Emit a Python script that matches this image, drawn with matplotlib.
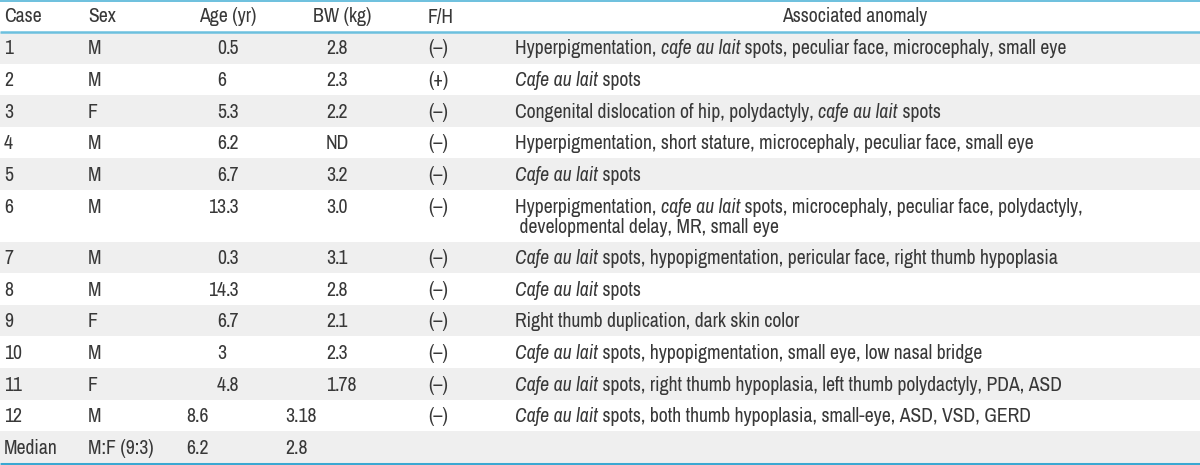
import matplotlib
matplotlib.use("Agg")
import matplotlib.pyplot as plt
from matplotlib.patches import Rectangle
from matplotlib.font_manager import FontProperties, fontManager

# ---------------- data ----------------
headers = ["Case", "Sex", "Age (yr)", "BW (kg)", "F/H", "Associated anomaly"]
cases = ["1", "2", "3", "4", "5", "6", "7", "8", "9", "10", "11", "12", "Median"]
sex = ["M", "M", "F", "M", "M", "M", "M", "M", "F", "M", "F", "M", "M:F (9:3)"]
age = ["0.5", "6", "5.3", "6.2", "6.7", "13.3", "0.3", "14.3", "6.7", "3", "4.8", "8.6", "6.2"]
bw = ["2.8", "2.3", "2.2", "ND", "3.2", "3.0", "3.1", "2.8", "2.1", "2.3", "1.78", "3.18", "2.8"]
fh = ["(–)", "(+)", "(–)", "(–)", "(–)", "(–)", "(–)", "(–)", "(–)", "(–)", "(–)", "(–)", ""]
anomaly = [
    "Hyperpigmentation, *cafe au lait* spots, peculiar face, microcephaly, small eye",
    "*Cafe au lait* spots",
    "Congenital dislocation of hip, polydactyly, *cafe au lait* spots",
    "Hyperpigmentation, short stature, microcephaly, peculiar face, small eye",
    "*Cafe au lait* spots",
    "Hyperpigmentation, *cafe au lait* spots, microcephaly, peculiar face, polydactyly,\n developmental delay, MR, small eye",
    "*Cafe au lait* spots, hypopigmentation, pericular face, right thumb hypoplasia",
    "*Cafe au lait* spots",
    "Right thumb duplication, dark skin color",
    "*Cafe au lait* spots, hypopigmentation, small eye, low nasal bridge",
    "*Cafe au lait* spots, right thumb hypoplasia, left thumb polydactyly, PDA, ASD",
    "*Cafe au lait* spots, both thumb hypoplasia, small-eye, ASD, VSD, GERD",
    "",
]

# ---------------- style ----------------
W, H = 1200, 465
avail = {f.name for f in fontManager.ttflist}
main = next((f for f in ["Archivo Narrow", "Liberation Sans Narrow", "Roboto Condensed",
                         "PT Sans Narrow", "Asap Condensed"] if f in avail),
            "DejaVu Sans")
FAM = [main, "DejaVu Sans"]
TXT = "#383838"
GRAY = "#efefef"
LINE = "#6cc0de"
LINE_B = "#3aa8d2"

fig = plt.figure(figsize=(W / 100, H / 100), dpi=100)
ax = fig.add_axes([0, 0, 1, 1])
ax.set_xlim(0, W)
ax.set_ylim(H, 0)
ax.axis("off")
fig.canvas.draw()
renderer = fig.canvas.get_renderer()

FS = 13.0


def tw(s, italic=False, fs=None):
    fp = FontProperties(family=FAM, size=fs or FS, style="italic" if italic else "normal")
    w1, _, _ = renderer.get_text_width_height_descent(s + "|", fp, ismath=False)
    w2, _, _ = renderer.get_text_width_height_descent("|", fp, ismath=False)
    return w1 - w2


def rich_width(s, fs):
    return sum(tw(p, i % 2 == 1, fs) for i, p in enumerate(s.split("*")) if p)


# fit font size so that the first anomaly line spans ~555 px as in the reference
w0 = rich_width(anomaly[0], 13.0)
FS = max(10.0, min(14.5, 13.0 * 555.0 / w0))


def put(x, y, s, ha="left", italic=False):
    ax.text(x, y, s, ha=ha, va="baseline", fontsize=FS, family=FAM,
            style="italic" if italic else "normal", color=TXT)


def rich(x, y, s):
    parts = s.split("*")
    for i, p in enumerate(parts):
        if not p:
            continue
        it = (i % 2 == 1)
        put(x, y, p, italic=it)
        x += tw(p, it)


def dec(xd, y, s):
    if "." in s:
        a, b = s.split(".")
        put(xd, y, a, ha="right")
        put(xd, y, "." + b, ha="left")
    else:
        put(xd, y, s, ha="right")


HEADER_H = 32
ROW_H = 31.6
LINE_H = 20
BASE = 22.5

# columns
X_CASE, X_SEX, X_FH, X_AN = 4, 88, 428, 515
AGE_C, BW_C, AN_C = 228, 342, 855
AGE_D, BW_D = 226, 335
AGE_L, BW_L = 186, 285

# header
put(X_CASE, BASE, headers[0])
put(X_SEX, BASE, headers[1])
put(AGE_C, BASE, headers[2], ha="center")
put(BW_C, BASE, headers[3], ha="center")
put(X_FH, BASE, headers[4])
put(AN_C, BASE, headers[5], ha="center")

y = HEADER_H
for i in range(len(cases)):
    nl = anomaly[i].count("\n") + 1
    h = ROW_H + LINE_H * (nl - 1)
    if i % 2 == 0:
        ax.add_patch(Rectangle((0, y), W, h, facecolor=GRAY, edgecolor="none", zorder=0))
    yb = y + BASE
    put(X_CASE, yb, cases[i])
    put(X_SEX, yb, sex[i])
    if i >= 11:
        put(AGE_L, yb, age[i])
        put(BW_L, yb, bw[i])
    else:
        dec(AGE_D, yb, age[i])
        if "." in bw[i]:
            dec(BW_D, yb, bw[i])
        else:
            put(BW_D + 2, yb, bw[i], ha="center")
    put(X_FH, yb, fh[i])
    for k, ln in enumerate(anomaly[i].split("\n")):
        rich(X_AN, yb + k * LINE_H, ln)
    y += h

ax.plot([0, W], [1, 1], color=LINE, lw=1.4, solid_capstyle="butt")
ax.plot([0, W], [HEADER_H, HEADER_H], color=LINE, lw=1.8, solid_capstyle="butt")
ax.plot([0, W], [H - 1.5, H - 1.5], color=LINE_B, lw=2.2, solid_capstyle="butt")

fig.savefig("out.png", dpi=100)
